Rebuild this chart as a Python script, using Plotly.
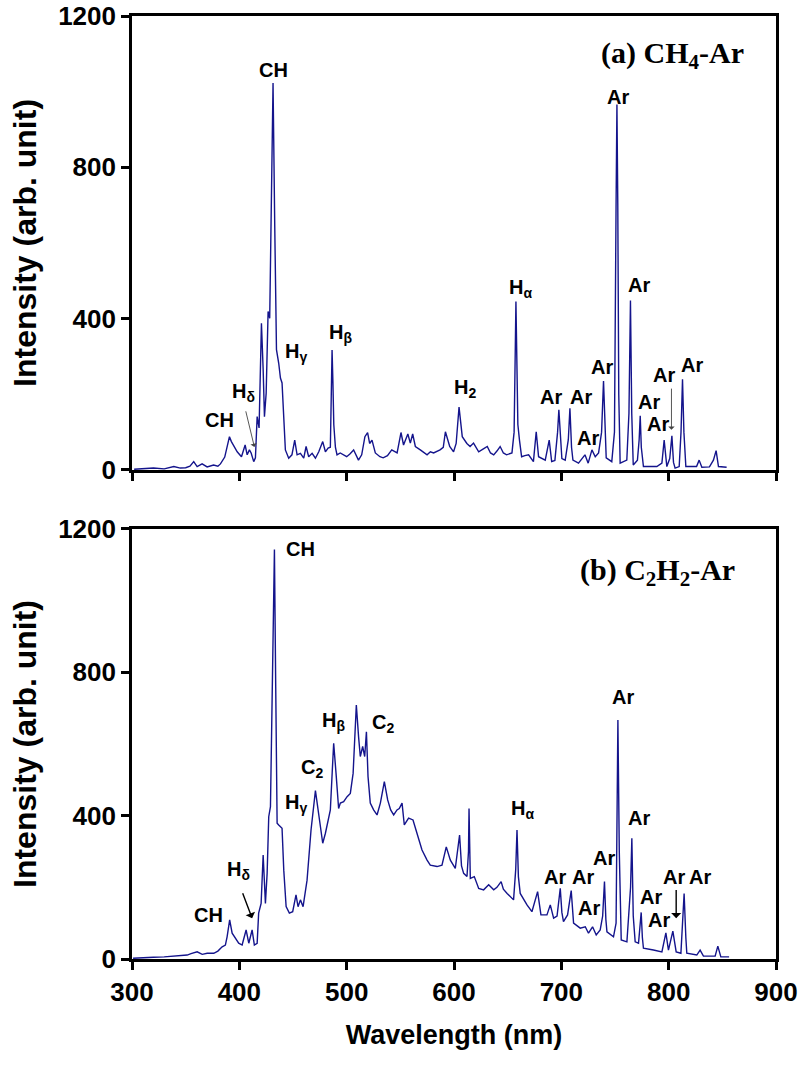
import plotly.graph_objects as go

# ---- Emission spectra (wavelength in nm, intensity in arb. unit) ----
wl_ch4 = [302, 310, 320, 330, 339, 345, 350, 354, 357.5, 360.7, 365.3, 370, 376, 380, 382.4,
          386.4, 388, 390.8, 392.6, 395.4, 398, 402, 405.4, 407.3, 409.4, 411, 413.4, 415,
          416.6, 418.4, 420.6, 422.2, 423.4, 425, 426.8, 428.3, 429.9, 431.4, 433, 434.6,
          436.7, 438.3, 439.8, 441.4, 442.9, 446, 449, 451.6, 453.8, 456.9, 460, 462.2, 464.6,
          467.8, 470.9, 474, 477.7, 480.2, 482.7, 484.8, 485.6, 486.4, 487.2, 488, 489.5, 491,
          494, 497.2, 500, 503, 506.5, 511, 514, 517, 519.5, 521.4, 523.6, 526.7, 531, 534, 538,
          542, 547, 550.6, 553, 557, 559.3, 561.5, 564, 568.6, 574.9, 578, 581, 587, 590, 592,
          596, 599.6, 602, 604.7, 607.7, 612, 615, 618.2, 623, 627, 631, 634, 637, 640, 643,
          646, 649, 654, 656, 657, 657.7, 658.5, 659.5, 661, 663, 666, 669.5, 674, 676.6, 678.8,
          682, 685, 688.7, 691, 694, 696.5, 697.7, 699, 700.5, 703.6, 706.5, 708, 709.5, 710.8,
          716, 722, 725, 728.5, 731.6, 734.7, 737.5, 739.3, 740.8, 741.8, 747, 749.5, 751,
          751.8, 752.6, 753.5, 754.8, 761, 763, 764.4, 765.6, 767, 770.9, 772.5, 773.5, 774.5,
          776.5, 789, 793.7, 795.8, 798.3, 801, 803, 804.5, 806, 809.8, 811.5, 812.9, 814.2,
          816, 826, 828.4, 830.9, 838, 841.7, 844.2, 846.4, 854]
int_ch4 = [2, 3, 5, 3, 9, 5, 6, 10, 22, 9, 16, 8, 13, 10, 16,
           34, 53, 88, 75, 62, 48, 35, 66, 40, 53, 45, 22, 32,
           141, 111, 388, 265, 141, 203, 419, 401, 732, 1023, 644, 318,
           282, 243, 230, 115, 53, 31, 40, 79, 40, 44, 31, 62, 35,
           44, 31, 48, 75, 48, 58, 60, 200, 317, 230, 120, 60, 40,
           45, 40, 35, 42, 53, 26, 40, 88, 99, 70, 79, 45, 35, 32, 38,
           53, 45, 99, 66, 95, 71, 95, 62, 53, 40, 48, 45, 53, 60, 101,
           62, 48, 70, 166, 88, 70, 62, 71, 48, 55, 62, 45, 40, 50, 62,
           45, 40, 45, 100, 300, 445, 300, 120, 79, 35, 38, 40, 22, 101, 35,
           30, 26, 79, 22, 25, 100, 159, 80, 30, 26, 80, 163, 60, 26,
           18, 40, 18, 53, 35, 45, 100, 235, 100, 32, 22, 100, 700,
           966, 700, 200, 18, 26, 150, 448, 150, 13, 26, 80, 143, 60,
           9, 9, 18, 79, 9, 30, 90, 20, 5, 9, 100, 240, 100,
           9, 9, 26, 7, 8, 26, 51, 9, 7]

wl_c2h2 = [301, 310, 320, 330, 340, 351.4, 355, 360.7, 365.4, 370, 376.2, 380, 384, 387, 388.6,
           391, 393.3, 396.4, 399.4, 402.6, 406.3, 408.8, 411.9, 414, 416.6, 418, 420.3, 422.2,
           424.3, 425.9, 427.4, 429, 431.1, 432.7, 433.9, 435.2, 436.7, 439.8, 441.4, 443.6,
           446.6, 449.7, 452.8, 454.7, 456.9, 459.4, 463.1, 466.8, 470.9, 473.4, 475.5, 477.7,
           480.2, 483.2, 484.8, 486.5, 487.9, 490.1, 492.5, 494.1, 497.2, 500.4, 503.4, 506,
           509, 511.1, 512.7, 514.9, 516.8, 518.4, 519.9, 522, 525.1, 528.3, 531.4, 535.1, 538.2,
           541, 543.8, 546.9, 549, 551.6, 553.7, 557.7, 561.8, 565.5, 570.2, 574.9, 577.9, 584.2,
           588.8, 592.8, 596.6, 601.2, 603.5, 605.2, 607, 609, 612.1, 613.5, 614, 614.6, 615.2,
           618.9, 623, 627.6, 632.3, 637, 640, 643.9, 646, 649.5, 655.5, 657.5, 658.7, 660,
           661.7, 668, 672.6, 677.9, 681, 686.6, 689.7, 692.8, 696, 699, 700.5, 702, 705.8,
           709.2, 710.5, 711.4, 717.6, 722.3, 725.3, 729.1, 732.5, 736.2, 738.5, 740.2, 741.5,
           742.5, 748.6, 751, 752.7, 754, 755.8, 761.1, 764.5, 765.7, 767, 768.8, 771.9, 774.4,
           775.5, 776.5, 785.8, 793.7, 797.4, 799.8, 803.9, 807, 811.4, 814.4, 816, 816.9,
           826.2, 829.3, 832.4, 843.3, 845.8, 848.6, 856.3]
int_c2h2 = [2, 4, 5, 6, 8, 11, 15, 20, 13, 16, 16, 22, 34, 39, 62,
            109, 72, 58, 44, 39, 81, 44, 81, 39, 44, 128, 155, 290,
            155, 239, 397, 425, 881, 1143, 760, 379, 374, 365, 248, 146,
            128, 132, 179, 146, 165, 146, 220, 360, 470, 416, 369, 323,
            351, 388, 416, 520, 602, 518, 420, 435, 439, 453, 462, 518,
            709, 620, 565, 593, 565, 634, 509, 435, 416, 402, 435, 495, 444,
            416, 402, 416, 420, 435, 374, 393, 388, 351, 304, 276, 262, 258,
            262, 313, 276, 253, 300, 346, 260, 239, 230, 300, 420, 260, 225,
            230, 197, 193, 207, 193, 200, 216, 195, 183, 165, 250, 360, 230,
            183, 151, 132, 188, 123, 123, 151, 114, 120, 197, 130, 104, 123,
            191, 120, 100, 86, 90, 72, 90, 67, 81, 120, 216, 110,
            76, 62, 100, 667, 300, 53, 48, 200, 337, 120, 48, 44, 130,
            60, 30, 25, 20, 73, 25, 78, 20, 16, 183, 60, 16,
            11, 25, 8, 8, 36, 6, 6]

x_ticks = [300, 400, 500, 600, 700, 800, 900]
y_ticks = [0, 400, 800, 1200]

# ---- Peak labels: (text, wavelength, intensity) ----
labels_ch4 = [
    ("CH", 431.5, 1056), ("CH", 381.5, 132), ("H<sub>δ</sub>", 404, 204),
    ("H<sub>γ</sub>", 453, 310), ("H<sub>β</sub>", 494, 362), ("H<sub>2</sub>", 610.5, 216),
    ("H<sub>α</sub>", 662.4, 481), ("Ar", 690.3, 194), ("Ar", 718.2, 194), ("Ar", 724.8, 84),
    ("Ar", 737.8, 273), ("Ar", 752.7, 986), ("Ar", 772.8, 490), ("Ar", 782.1, 179),
    ("Ar", 789.6, 121), ("Ar", 795.8, 250), ("Ar", 821.6, 278),
]
labels_c2h2 = [
    ("CH", 457, 1143), ("CH", 371.5, 123), ("H<sub>δ</sub>", 399.4, 248),
    ("H<sub>γ</sub>", 452.9, 435), ("C<sub>2</sub>", 467.8, 532), ("H<sub>β</sub>", 487.9, 662),
    ("C<sub>2</sub>", 533.5, 658), ("H<sub>α</sub>", 664.2, 416), ("Ar", 693.7, 230),
    ("Ar", 720.1, 230), ("Ar", 725.4, 143), ("Ar", 740, 281), ("Ar", 757.9, 732),
    ("Ar", 771.9, 393), ("Ar", 783.4, 174), ("Ar", 791.1, 109), ("Ar", 805.4, 230),
    ("Ar", 829.3, 230),
]
# pointer arrows: (tail wavelength, tail intensity, head wavelength, head intensity)
arrows_ch4 = [(405.7, 159, 414, 61), (802.6, 219, 802.6, 106)]
arrows_c2h2 = [(402.6, 188, 411.9, 114), (807, 197, 807, 114)]

LINE_COLOR = "#14148c"
SANS = "Arial, Liberation Sans, sans-serif"
SERIF = "Times New Roman, Liberation Serif, serif"

fig = go.Figure()
fig.add_trace(go.Scatter(x=wl_ch4, y=int_ch4, mode="lines",
                         line=dict(color=LINE_COLOR, width=1.4),
                         xaxis="x", yaxis="y", showlegend=False))
fig.add_trace(go.Scatter(x=wl_c2h2, y=int_c2h2, mode="lines",
                         line=dict(color=LINE_COLOR, width=1.4),
                         xaxis="x2", yaxis="y2", showlegend=False))

axis_common = dict(showline=True, linecolor="black", linewidth=2.6, mirror=True,
                   ticks="outside", ticklen=8, tickwidth=2.6, tickcolor="black",
                   showgrid=False, zeroline=False, automargin=False,
                   tickfont=dict(family=SANS, size=26, color="black", weight="bold"))
ytitle_font = dict(family=SANS, size=32, color="black", weight="bold")

fig.update_layout(
    width=803, height=1065,
    margin=dict(l=132, r=27, t=16, b=106, autoexpand=False),
    plot_bgcolor="white", paper_bgcolor="white",
    xaxis=dict(domain=[0, 1], range=[300, 900], tickvals=x_ticks, showticklabels=False,
               anchor="y", **axis_common),
    yaxis=dict(domain=[0.5186, 1], range=[0, 1200], tickvals=y_ticks, anchor="x",
               title=dict(text="Intensity (arb. unit)", standoff=12, font=ytitle_font),
               **axis_common),
    xaxis2=dict(domain=[0, 1], range=[300, 900], tickvals=x_ticks, anchor="y2",
                title=dict(text="Wavelength (nm)", standoff=20,
                           font=dict(family=SANS, size=27, color="black", weight="bold")),
                **axis_common),
    yaxis2=dict(domain=[0, 0.456], range=[0, 1200], tickvals=y_ticks, anchor="x2",
                title=dict(text="Intensity (arb. unit)", standoff=12, font=ytitle_font),
                **axis_common),
)

annotations = []
for labels, xr, yr in ((labels_ch4, "x", "y"), (labels_c2h2, "x2", "y2")):
    for text, lx, ly in labels:
        annotations.append(dict(text="<b>" + text + "</b>", x=lx, y=ly, xref=xr, yref=yr,
                                showarrow=False, xanchor="center", yanchor="middle",
                                font=dict(family=SANS, size=20, color="black")))

for arrows, xr, yr, col, w in ((arrows_ch4, "x", "y", "#444444", 0.9),
                               (arrows_c2h2, "x2", "y2", "black", 1.4)):
    for tx, ty, hx, hy in arrows:
        annotations.append(dict(text="", x=hx, y=hy, ax=tx, ay=ty, xref=xr, yref=yr,
                                axref=xr, ayref=yr, showarrow=True, arrowhead=1,
                                arrowsize=1.2, arrowwidth=w, arrowcolor=col))

# Panel captions
annotations.append(dict(text="<b>(a) CH<sub>4</sub>-Ar</b>", x=0.9535, y=1098, xref="paper",
                        yref="y", xanchor="right", yanchor="middle", showarrow=False,
                        font=dict(family=SERIF, size=30, color="black")))
annotations.append(dict(text="<b>(b) C<sub>2</sub>H<sub>2</sub>-Ar</b>", x=0.939, y=1081,
                        xref="paper", yref="y2", xanchor="right", yanchor="middle",
                        showarrow=False, font=dict(family=SERIF, size=30, color="black")))

fig.update_layout(annotations=annotations)
fig.write_html("out.html")
